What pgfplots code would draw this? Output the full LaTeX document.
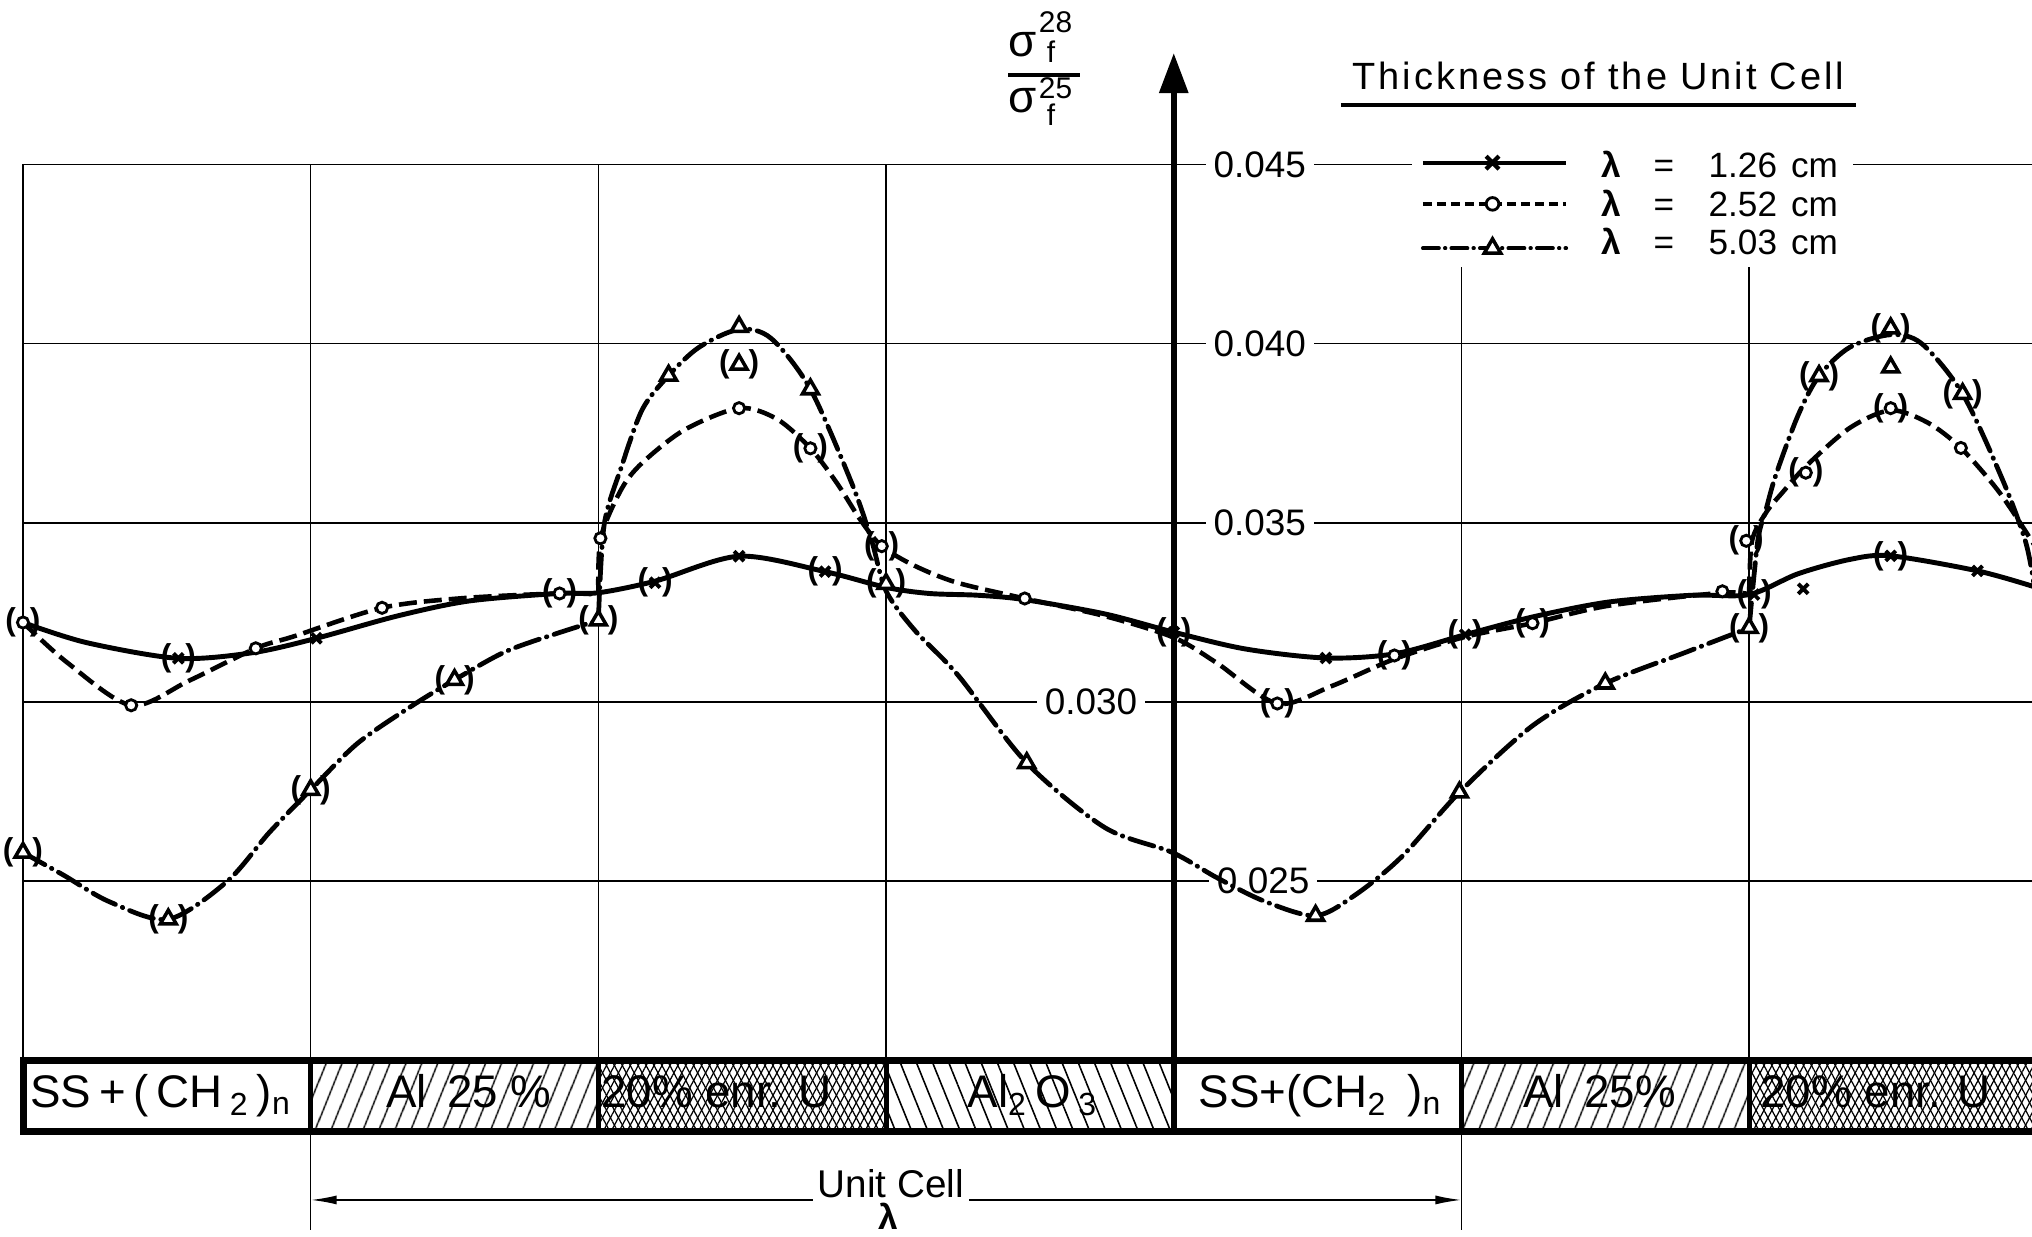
\documentclass[border=0pt]{standalone}
\usepackage{pgfplots}
\pgfplotsset{compat=1.18}
\usepackage{fontspec}
\setmainfont{Liberation Sans}
\newfontfamily\titlefont{Liberation Sans}[LetterSpace=8]
\usetikzlibrary{patterns.meta, arrows.meta}

\pgfplotsset{
  lamA/.style={black, line width=1.4pt, smooth, tension=0.5, no markers, forget plot},
  lamB/.style={black, line width=1.3pt, smooth, tension=0.5, no markers, forget plot,
               dash pattern=on 1.8mm off 0.7mm},
  lamC/.style={black, line width=1.35pt, smooth, tension=0.5, no markers, forget plot,
               line cap=round, dash pattern=on 2.5mm off 0.75mm on 0.05mm off 0.75mm},
  mkX/.style={only marks, forget plot, mark=x, mark size=2pt,
              mark options={black, line width=1.1pt}},
  mkO/.style={only marks, forget plot, mark=*, mark size=1.6pt,
              mark options={draw=black, fill=white, line width=0.8pt}},
  mkT/.style={only marks, forget plot, mark=triangle*, mark size=2.6pt,
              mark options={draw=black, fill=white, line width=1pt}},
  paren/.style={nodes near coords={\textbf{(}\hspace{#1}\textbf{)}},
              every node near coord/.append style={anchor=center, inner sep=0pt,
              black, font=\fontsize{9}{9}\selectfont}},
}

\begin{document}
\begin{tikzpicture}
\begin{axis}[
  width=20.32cm, height=12.37cm, scale only axis,
  xmin=-0.0800, xmax=6.9833, ymin=0.015075, ymax=0.04959,
  hide axis, clip=true,
]
% ---------- grid of the cells ----------
\pgfplotsinvokeforeach{0,1,2,3,4,5,6}{
  \draw[line width=0.45pt] (axis cs:#1,0.020) -- (axis cs:#1,0.045);
}
\pgfplotsinvokeforeach{0.025,0.030,0.035,0.040,0.045}{
  \draw[line width=0.45pt] (axis cs:0,#1) -- (axis cs:7.2,#1);
}
% cell boundaries of the unit cell carried below the strip
\draw[line width=0.45pt] (axis cs:1,0.01803) -- (axis cs:1,0.01527);
\draw[line width=0.45pt] (axis cs:5,0.01803) -- (axis cs:5,0.01527);

% ---------- ordinate values ----------
\begin{scope}[every node/.style={fill=white, inner xsep=0.8mm, inner ysep=0.4mm,
              font=\fontsize{10.5}{12}\selectfont}]
\node[anchor=west] at (axis cs:4.108,0.045) {0.045};
\node[anchor=west] at (axis cs:4.108,0.040) {0.040};
\node[anchor=west] at (axis cs:4.108,0.035) {0.035};
\node[anchor=east] at (axis cs:3.903,0.030) {0.030};
\node[anchor=west] at (axis cs:4.120,0.025) {0.025};
\end{scope}

% ---------- material strip ----------
\fill[pattern={Lines[angle=68,distance=1.4mm,line width=0.45pt]}]
  (axis cs:1,0.01803) rectangle (axis cs:2,0.0200);
\fill[pattern={Lines[angle=62,distance=0.7mm,line width=0.35pt]}]
  (axis cs:2,0.01803) rectangle (axis cs:3,0.0200);
\fill[pattern={Lines[angle=118,distance=0.7mm,line width=0.35pt]}]
  (axis cs:2,0.01803) rectangle (axis cs:3,0.0200);
\fill[pattern={Lines[angle=112,distance=1.5mm,line width=0.45pt]}]
  (axis cs:3,0.01803) rectangle (axis cs:4,0.0200);
\fill[pattern={Lines[angle=68,distance=1.4mm,line width=0.45pt]}]
  (axis cs:5,0.01803) rectangle (axis cs:6,0.0200);
\fill[pattern={Lines[angle=62,distance=0.7mm,line width=0.35pt]}]
  (axis cs:6,0.01803) rectangle (axis cs:7.2,0.0200);
\fill[pattern={Lines[angle=118,distance=0.7mm,line width=0.35pt]}]
  (axis cs:6,0.01803) rectangle (axis cs:7.2,0.0200);
\draw[line width=2pt] (axis cs:7.2,0.0200) -- (axis cs:0,0.0200)
  -- (axis cs:0,0.01803) -- (axis cs:7.2,0.01803);
\pgfplotsinvokeforeach{1,2,3,5,6}{
  \draw[line width=1.4pt] (axis cs:#1,0.01803) -- (axis cs:#1,0.0200);
}
\begin{scope}[every node/.style={anchor=base, inner sep=0pt,
              font=\fontsize{13}{14}\selectfont}]
\node at (axis cs:0.48,0.01868) {SS\,+\,(\,CH\,\textsubscript{2}\,)\textsubscript{n}};
\node at (axis cs:1.55,0.01868) {Al\, 25 \%};
\node at (axis cs:2.41,0.01868) {20\% enr. U};
\node at (axis cs:3.51,0.01868) {Al\textsubscript{2}\,O\,\textsubscript{3}};
\node at (axis cs:4.51,0.01868) {SS+(CH\textsubscript{2}\, )\textsubscript{n}};
\node at (axis cs:5.48,0.01868) {Al\, 25\%};
\node at (axis cs:6.44,0.01868) {20\% enr. U};
\end{scope}

% ---------- unit cell dimension ----------
\draw[line width=0.5pt, {Latex[length=2.6mm,width=0.9mm]}-{Latex[length=2.6mm,width=0.9mm]}]
  (axis cs:1,0.016108) -- (axis cs:5,0.016108);
\node[anchor=base, fill=white, inner xsep=1.5pt, inner ysep=0.8pt,
  font=\fontsize{11}{12}\selectfont]
  at (axis cs:3.017,0.01617) {Unit Cell};
\node[anchor=south, inner sep=0pt, font=\bfseries\fontsize{10}{10}\selectfont]
  at (axis cs:3.007,0.01527) {λ};

% ---------- ordinate arrow and its label ----------
\draw[line width=1.7pt, -{Triangle[length=4mm,width=2.8mm]}]
  (axis cs:4,0.01803) -- (axis cs:4,0.04811);
\node[anchor=base west, inner sep=0pt, font=\fontsize{13}{14}\selectfont]
  at (axis cs:3.424,0.0480)
  {σ\kern0.2mm\raisebox{-0.6mm}{\fontsize{8.5}{8.5}\selectfont\vbox{\baselineskip=3mm\hbox{28}\hbox{\kern0.8mm f}}}};
\draw[line width=1.2pt] (axis cs:3.424,0.0475) -- (axis cs:3.674,0.0475);
\node[anchor=base west, inner sep=0pt, font=\fontsize{13}{14}\selectfont]
  at (axis cs:3.424,0.04644)
  {σ\kern0.2mm\raisebox{-1.3mm}{\fontsize{8.5}{8.5}\selectfont\vbox{\baselineskip=2.7mm\hbox{25}\hbox{\kern0.8mm f}}}};

% ---------- curves ----------
% lambda = 1.26 cm
\addplot[lamA] coordinates {
 (0,0.03222) (0.22,0.03166) (0.54,0.03122) (0.80,0.03138) (1.02,0.03178)
 (1.30,0.03240) (1.55,0.03282) (1.86,0.03303) (2.0,0.03305) (2.2,0.03338)
 (2.489,0.03407) (2.788,0.03364) (3.0,0.03320) (3.15,0.03303) (3.32,0.03298)
 (3.48,0.03286) (3.76,0.03246) (4.0,0.03195) (4.25,0.03148) (4.529,0.03123)
 (4.77,0.03135) (5.013,0.03188) (5.25,0.03238) (5.51,0.03279) (5.80,0.03298)
 (6.0,0.03300) (6.17,0.03358) (6.35,0.03398) (6.492,0.03408) (6.794,0.03366)
 (6.99,0.03322)};
% lambda = 2.52 cm
\addplot[lamB] coordinates {
 (0,0.03222) (0.154,0.0311) (0.376,0.02991) (0.578,0.0306) (0.809,0.0315)
 (0.944,0.03184) (1.248,0.03263) (1.53,0.0329) (1.865,0.03303) (2.0,0.0330)};
\addplot[lamB] coordinates {
 (2.0,0.0330) (2.008,0.03457) (2.08,0.03594) (2.153,0.03668) (2.3,0.0376)
 (2.489,0.0382) (2.62,0.0379) (2.737,0.03708) (2.83,0.0361) (2.912,0.03507)
 (2.985,0.03435) (3.1,0.0338) (3.248,0.03333) (3.482,0.03289) (3.76,0.0324)
 (4.0,0.0318) (4.15,0.03109) (4.36,0.02996) (4.55,0.03045) (4.767,0.0312)
 (5.013,0.03182) (5.247,0.0322) (5.513,0.03269) (5.907,0.03305) (6.0,0.0330)};
\addplot[lamB] coordinates {
 (6.0,0.0330) (6.01,0.0345) (6.06,0.0353) (6.116,0.03585) (6.2,0.0366)
 (6.35,0.03765) (6.492,0.03814) (6.62,0.0378) (6.736,0.03709) (6.87,0.03585)
 (6.99,0.0344)};
% lambda = 5.03 cm
\addplot[lamC] coordinates {
 (0,0.0258) (0.139,0.02518) (0.3,0.02443) (0.505,0.02394) (0.71,0.0250)
 (0.856,0.02636) (1.0,0.02755) (1.163,0.02885) (1.353,0.0299) (1.5,0.03062)
 (1.675,0.0314) (1.85,0.0319) (2.0,0.03228)};
\addplot[lamC] coordinates {
 (2.0,0.03228) (2.02,0.03494) (2.08,0.03656) (2.153,0.03817) (2.244,0.03911)
 (2.35,0.0399) (2.489,0.0404) (2.6,0.04015) (2.737,0.03873) (2.883,0.03606)
 (2.95,0.0345) (3.0,0.0331) (3.1,0.0320) (3.25,0.03075) (3.489,0.0283)
 (3.76,0.0265) (3.993,0.02581) (4.15,0.0251) (4.313,0.02445) (4.493,0.02404)
 (4.633,0.02463) (4.793,0.02569) (4.993,0.02748) (5.247,0.02934) (5.5,0.03052)
 (5.78,0.03139) (6.0,0.03207)};
\addplot[lamC] coordinates {
 (6.0,0.03207) (6.03,0.0345) (6.058,0.03535) (6.093,0.03634) (6.17,0.0380)
 (6.243,0.0391) (6.35,0.0399) (6.492,0.04025) (6.6,0.0400) (6.742,0.0386)
 (6.88,0.03622) (6.96,0.0345) (6.99,0.0333)};

% ---------- computed points ----------
\addplot[mkX] coordinates {(1.02,0.03178) (2.489,0.03407) (4.529,0.03123)
 (6.188,0.03316) (6.794,0.03366)};
\addplot[mkX, paren=1.4mm] coordinates {(0.54,0.03122) (2.197,0.03333)
 (2.788,0.03364) (4.0,0.03195) (5.013,0.03188) (6.017,0.0330) (6.492,0.03408)};
\addplot[mkO] coordinates {(0.376,0.02991) (0.809,0.0315) (1.248,0.03263)
 (2.007,0.03457) (2.489,0.0382) (3.482,0.03289) (5.907,0.03309) (6.736,0.03709)};
\addplot[mkO, paren=1.4mm] coordinates {(0,0.03222) (1.865,0.03303)
 (2.737,0.03708) (2.985,0.03435) (4.36,0.02996) (4.767,0.0313) (5.247,0.0322)
 (5.99,0.0345) (6.197,0.0364) (6.492,0.0382)};
\addplot[mkT] coordinates {(2.244,0.03911) (2.489,0.04047) (2.737,0.03873)
 (3.489,0.0283) (4.493,0.02404) (4.993,0.02748) (5.5,0.03052) (6.492,0.03934)};
\addplot[mkT, paren=1.9mm] coordinates {(0,0.0258) (0.505,0.02394) (1.0,0.02755)
 (1.5,0.03062) (2.0,0.03228) (2.489,0.03942) (3.0,0.0333) (6.0,0.03207)
 (6.243,0.0391) (6.492,0.04043) (6.742,0.0386)};

% ---------- key ----------
\fill[white] (axis cs:4.828,0.04215) rectangle (axis cs:6.361,0.04545);
\node[anchor=base, inner sep=0pt, font=\titlefont\fontsize{10.8}{12}\selectfont]
  at (axis cs:5.476,0.047079)
  {Thickness\hspace{1.3mm}of\hspace{1.3mm}the\hspace{1.3mm}Unit\hspace{1.3mm}Cell};
\draw[line width=0.9pt] (axis cs:4.581,0.04666) -- (axis cs:6.371,0.04666);
\addplot[black, line width=1.2pt, forget plot, mark=x, mark indices={2},
  mark options={solid, line width=1.2pt, mark size=2.6pt}]
  coordinates {(4.866,0.04505) (5.108,0.04505) (5.364,0.04505)};
\addplot[black, line width=1.1pt, forget plot, dash pattern=on 0.9mm off 0.5mm,
  mark=*, mark indices={2}, mark options={solid, draw=black, fill=white,
  line width=0.8pt, mark size=1.8pt}]
  coordinates {(4.866,0.0439) (5.108,0.0439) (5.364,0.0439)};
\addplot[black, line width=1.1pt, forget plot, line cap=round,
  dash pattern=on 1.6mm off 0.6mm on 0.05mm off 0.6mm,
  mark=triangle*, mark indices={2}, mark options={solid, draw=black, fill=white,
  line width=1pt, mark size=2.7pt}]
  coordinates {(4.866,0.04266) (5.108,0.04266) (5.364,0.04266)};
\begin{scope}[every node/.style={anchor=west, inner sep=0pt,
              font=\fontsize{10}{12}\selectfont}]
\node at (axis cs:5.485,0.04499) {\makebox[5.2mm][l]{\textbf{λ}}\makebox[5.5mm][l]{=}1.26\hspace{0.4em}cm};
\node at (axis cs:5.485,0.04392) {\makebox[5.2mm][l]{\textbf{λ}}\makebox[5.5mm][l]{=}2.52\hspace{0.4em}cm};
\node at (axis cs:5.485,0.04285) {\makebox[5.2mm][l]{\textbf{λ}}\makebox[5.5mm][l]{=}5.03\hspace{0.4em}cm};
\end{scope}
\end{axis}
\pgfresetboundingbox
\path[use as bounding box] (current axis.south west) rectangle (current axis.north east);
\end{tikzpicture}
\end{document}
